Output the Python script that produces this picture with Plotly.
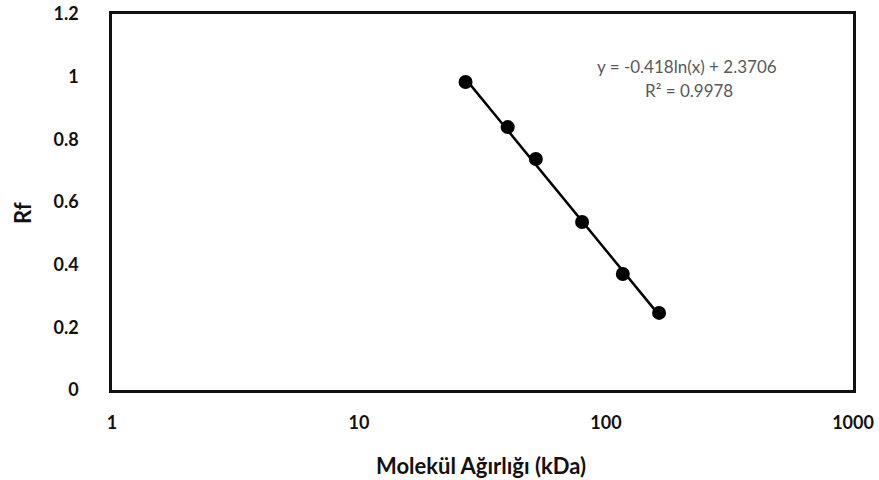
import numpy as np
import plotly.graph_objects as go

# Data
mw_kda = [27, 40, 52, 80, 117, 164]
rf = [0.983, 0.839, 0.737, 0.536, 0.370, 0.246]

# Trendline coefficients (from chart label)
slope = -0.418
intercept = 2.3706
eq_text = "y = -0.418ln(x) + 2.3706"
r2_text = "R² = 0.9978"

x_ticks = [1, 10, 100, 1000]
y_ticks = [0, 0.2, 0.4, 0.6, 0.8, 1, 1.2]
y_ticktext = ["0", "0.2", "0.4", "0.6", "0.8", "1", "1.2"]

xfit = np.array([mw_kda[0], mw_kda[-1]], dtype=float)
yfit = slope * np.log(xfit) + intercept

fig = go.Figure()
fig.add_trace(go.Scatter(x=xfit, y=yfit, mode="lines",
                         line=dict(color="black", width=2.5), showlegend=False,
                         hoverinfo="skip"))
fig.add_trace(go.Scatter(x=mw_kda, y=rf, mode="markers",
                         marker=dict(color="black", size=14), showlegend=False))

font_fam = "Lato, 'Open Sans', sans-serif"

fig.update_layout(
    width=879, height=480,
    margin=dict(l=112, r=26, t=14, b=90, autoexpand=False),
    paper_bgcolor="white", plot_bgcolor="white",
    font=dict(family=font_fam, color="black"),
    xaxis=dict(type="log", range=[0, 3], tickvals=x_ticks,
               ticktext=[str(v) for v in x_ticks], automargin=False,
               showgrid=False, zeroline=False, ticks="",
               showline=True, linecolor="#111111", linewidth=2.5, mirror=True,
               tickfont=dict(size=18, family=font_fam, weight="bold", color="#111111"),
               ticklabelstandoff=15),
    yaxis=dict(range=[0, 1.2], tickvals=y_ticks, ticktext=y_ticktext,
               automargin=False,
               showgrid=False, zeroline=False, ticks="",
               showline=True, linecolor="#111111", linewidth=2.5, mirror=True,
               tickfont=dict(size=18, family=font_fam, weight="bold", color="#111111"),
               ticklabelstandoff=27),
    annotations=[
        dict(text=eq_text, xref="paper", yref="paper", x=(687 - 112) / 741,
             y=(390 - 66) / 376, showarrow=False, xanchor="center", yanchor="middle",
             font=dict(size=17, color="#595959", family=font_fam)),
        dict(text=r2_text, xref="paper", yref="paper", x=(689 - 112) / 741,
             y=(390 - 91) / 376, showarrow=False, xanchor="center", yanchor="middle",
             font=dict(size=17, color="#595959", family=font_fam)),
        dict(text="Molekül Ağırlığı (kDa)", xref="paper", yref="paper",
             x=(481 - 112) / 741, y=(390 - 465) / 376, showarrow=False,
             xanchor="center", yanchor="middle",
             font=dict(size=22, family=font_fam, weight="bold", color="#111111")),
        dict(text="Rf", xref="paper", yref="paper", x=(22 - 112) / 741,
             y=(390 - 213) / 376, showarrow=False, textangle=-90,
             xanchor="center", yanchor="middle",
             font=dict(size=22, family=font_fam, weight="bold", color="#111111")),
    ],
)

fig.write_html("out.html")
